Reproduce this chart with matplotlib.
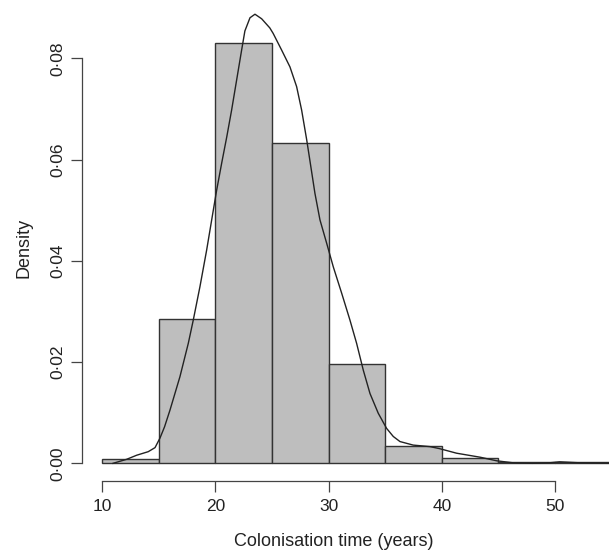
import matplotlib
matplotlib.use('Agg')
import matplotlib.pyplot as plt
import numpy as np

plt.rcParams['font.family'] = ['Liberation Sans', 'DejaVu Sans']

# histogram bins (years) and densities
bin_edges = [10, 15, 20, 25, 30, 35, 40, 45, 50, 55]
bin_density = [0.0008, 0.0285, 0.0831, 0.0632, 0.0196, 0.0034, 0.0011, 0.0002, 0.0002]

# kernel density curve, traced
curve_x = [10.95, 12.16, 13.04, 14.06, 14.66, 15.1, 15.5, 15.98, 16.86, 17.6,
           18.04, 18.63, 19.22, 19.81, 20.11, 20.55, 21.0, 21.43, 21.87, 22.31,
           22.6, 23.05, 23.49, 24.08, 24.8, 25.1, 25.85, 26.58, 27.17, 27.61,
           28.06, 28.35, 28.79, 29.23, 29.82, 30.41, 31.15, 31.88, 32.47, 33.06,
           33.65, 34.38, 35.12, 35.71, 36.3, 37.47, 38.95, 39.8, 41.3, 43.4,
           44.84, 46.3, 48.0, 49.5, 50.4, 51.3, 52.2, 56.0]
curve_y = [0.0, 0.0008, 0.0016, 0.0023, 0.0031, 0.0050, 0.0072, 0.0105, 0.0171, 0.0237,
           0.0283, 0.0349, 0.0421, 0.0500, 0.0540, 0.0593, 0.0645, 0.0698, 0.0757, 0.0816,
           0.0854, 0.0880, 0.0887, 0.0878, 0.0860, 0.0849, 0.0816, 0.0783, 0.0744, 0.0698,
           0.0639, 0.0597, 0.0533, 0.0481, 0.0435, 0.0388, 0.0336, 0.0283, 0.0237, 0.0184,
           0.0138, 0.0099, 0.0069, 0.0053, 0.0043, 0.0036, 0.0033, 0.0029, 0.0020, 0.0012,
           0.0005, 0.0001, 0.0, 0.0001, 0.0003, 0.0002, 0.0001, 0.0]

x_ticks = [10, 20, 30, 40, 50]
y_ticks = [0.0, 0.02, 0.04, 0.06, 0.08]
y_tick_labels = ['0\u00b700', '0\u00b702', '0\u00b704', '0\u00b706', '0\u00b708']

W, H = 609, 552
fig = plt.figure(figsize=(W / 100, H / 100), dpi=100)
# plot region runs past the right edge, like the cropped original
ax = fig.add_axes([81.9 / W, (H - 481.3) / H, 550.1 / W, 484.8 / H])

lefts = bin_edges[:-1]
widths = np.diff(bin_edges)
ax.bar(lefts, bin_density, width=widths, align='edge', color='#bebebe',
       edgecolor='#333333', linewidth=1.0)
ax.plot(curve_x, curve_y, color='#222222', linewidth=1.0)

ax.set_xlim(8.2, 56.8)
ax.set_ylim(-0.00355, 0.0922)

for s in ['top', 'right']:
    ax.spines[s].set_visible(False)
ax.spines['bottom'].set_bounds(10, 50)
ax.spines['left'].set_bounds(0, 0.08)
for s in ['bottom', 'left']:
    ax.spines[s].set_color('#444444')
    ax.spines[s].set_linewidth(0.9)

ax.set_xticks(x_ticks)
ax.set_xticklabels([str(t) for t in x_ticks])
ax.set_yticks(y_ticks)
ax.set_yticklabels(y_tick_labels)
ax.tick_params(axis='both', length=8, width=0.9, color='#444444',
               labelsize=12.5, labelcolor='#222222')
ax.tick_params(axis='x', pad=4.8)
ax.tick_params(axis='y', pad=9.5)
plt.setp(ax.get_yticklabels(), rotation=90, ha='center', va='center')

fig.text(334 / W, 1 - 541.5 / H, 'Colonisation time (years)', ha='center',
         va='center', fontsize=13, color='#222222')
fig.text(23.5 / W, 1 - 248 / H, 'Density', ha='center', va='center',
         rotation=90, fontsize=13, color='#222222')

fig.savefig('out.png', dpi=100)
